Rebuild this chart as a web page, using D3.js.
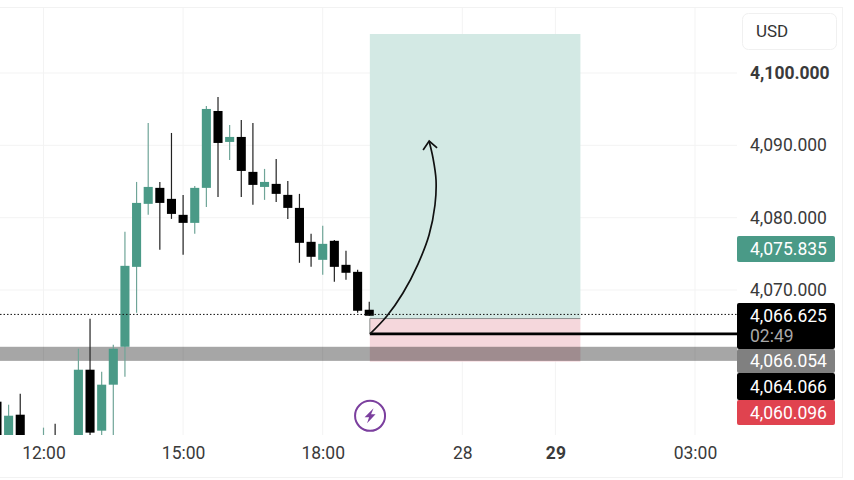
<!DOCTYPE html>
<html>
<head>
<meta charset="utf-8">
<script src="https://cdn.jsdelivr.net/npm/d3@7"></script>
<style>
  html, body { margin: 0; padding: 0; background: #fff; }
  text { font-family: Roboto, sans-serif; }
  .axis path, .axis line { display: none; }
  .axis text { font-size: 17.5px; fill: #3a3a3a; font-family: Roboto, sans-serif; }
</style>
</head>
<body>
<svg id="chart" width="854" height="480"></svg>
<script>
// 15 minute candles, index 0 is the 12:00 bar
const firstIndex = -4;
const opens  = [4054.56, 4049.00, 4052.76, 4048.50, 4047.00, 4049.50, 4048.50, 4049.00, 4058.98, 4050.55, 4056.91, 4062.15, 4073.20, 4081.91, 4084.12, 4082.60, 4080.39, 4079.28, 4084.12, 4094.75, 4090.47, 4091.16, 4086.33, 4084.25, 4084.67, 4083.15, 4081.35, 4076.66, 4074.17, 4076.80, 4073.48, 4072.51, 4067.27];
const highs  = [4054.80, 4054.14, 4055.66, 4049.50, 4050.97, 4051.52, 4049.50, 4061.88, 4066.02, 4058.70, 4062.43, 4078.04, 4084.94, 4093.09, 4084.94, 4091.71, 4083.15, 4084.39, 4095.44, 4096.69, 4092.82, 4093.51, 4093.09, 4086.74, 4088.12, 4085.08, 4083.29, 4077.76, 4078.87, 4076.90, 4075.41, 4072.79, 4068.37];
const lows   = [4047.00, 4048.00, 4048.00, 4046.00, 4046.00, 4046.00, 4046.00, 4048.00, 4049.80, 4049.50, 4049.00, 4058.01, 4066.85, 4080.39, 4075.55, 4079.83, 4074.86, 4077.76, 4081.49, 4082.87, 4087.98, 4082.87, 4081.77, 4082.46, 4082.18, 4079.83, 4073.76, 4073.20, 4072.10, 4071.13, 4071.41, 4066.85, 4066.44];
const closes = [4049.00, 4052.62, 4049.00, 4047.00, 4049.00, 4047.00, 4047.00, 4058.98, 4050.28, 4056.91, 4061.88, 4073.34, 4082.04, 4084.25, 4082.04, 4080.52, 4079.28, 4084.12, 4095.03, 4090.33, 4091.16, 4086.46, 4084.53, 4084.94, 4083.29, 4081.35, 4076.52, 4074.59, 4076.38, 4073.20, 4072.38, 4067.13, 4066.44];

const priceTicks = [4100, 4090, 4080, 4070];
const timeTicks = [0, 12, 24, 36, 44, 56];
const timeLabels = ['12:00', '15:00', '18:00', '28', '29', '03:00'];

const lastPrice = 4066.625;
const takeProfit = 4105.39, stopLoss = 4060.096, entry = 4063.93, boxSplit = 4066.054;
const boxStart = 28.05, boxEnd = 46.15;
const bandTop = 4062.15, bandBottom = 4060.2;
const arrowPath = [[28.07, 4063.93], [29.52, 4066.40], [30.90, 4069.58], [32.19, 4073.59], [33.14, 4077.60], [33.65, 4081.75], [33.74, 4085.21], [33.48, 4088.25], [33.14, 4090.60]];
const arrowHead = [[32.63, 4089.36], [33.15, 4090.6], [33.83, 4089.64]];
const marker = [28.07, 4052.6];

// price tags on the axis, the lower ones are pushed down so they don't overlap
const tagTexts = ['4,075.835', '4,066.625', '4,066.054', '4,064.066', '4,060.096'];
const tagTops = [4077.46, 4068.2, 4061.84, 4058.52, 4054.79];
const tagBottoms = [4073.87, 4061.84, 4058.52, 4054.79, 4051.33];
const tagColors = ['#4a9a87', '#000000', '#808080', '#000000', '#e0434f'];
const countdown = '02:49';

const green = '#4a9a87', black = '#000000';
const plotRight = 737, plotBottom = 435, plotTop = 8;

const x = d3.scaleLinear().domain([0, 56]).range([43.5, 695]);
const y = d3.scaleLinear().domain([4100, 4070]).range([73, 290]);

const svg = d3.select('#chart');

svg.append('defs').append('clipPath').attr('id', 'plot')
  .append('rect').attr('x', 0).attr('y', plotTop).attr('width', plotRight).attr('height', plotBottom - plotTop);

// frame
svg.append('line').attr('x1', 0).attr('x2', 843).attr('y1', 7.5).attr('y2', 7.5).style('stroke', '#f2f2f2');
svg.append('line').attr('x1', 0).attr('x2', 843).attr('y1', 477.5).attr('y2', 477.5).style('stroke', '#f2f2f2');
svg.append('line').attr('x1', 842.5).attr('x2', 842.5).attr('y1', 7).attr('y2', 477).style('stroke', '#f2f2f2');

// grid
svg.selectAll('.hgrid').data(priceTicks).enter().append('line')
  .attr('class', 'hgrid')
  .attr('x1', 0).attr('x2', plotRight)
  .attr('y1', function(d) { return y(d); })
  .attr('y2', function(d) { return y(d); })
  .style('stroke', '#f3f3f3');
svg.selectAll('.vgrid').data(timeTicks).enter().append('line')
  .attr('class', 'vgrid')
  .attr('x1', function(d) { return x(d); })
  .attr('x2', function(d) { return x(d); })
  .attr('y1', plotTop).attr('y2', plotBottom)
  .style('stroke', '#f3f3f3');

const plot = svg.append('g').attr('clip-path', 'url(#plot)');

// long position box
plot.append('rect')
  .attr('x', x(boxStart)).attr('width', x(boxEnd) - x(boxStart))
  .attr('y', y(takeProfit)).attr('height', y(boxSplit) - y(takeProfit))
  .style('fill', '#d3e9e4');
plot.append('rect')
  .attr('x', x(boxStart)).attr('width', x(boxEnd) - x(boxStart))
  .attr('y', y(boxSplit)).attr('height', y(stopLoss) - y(boxSplit))
  .style('fill', '#f5d7dc');
plot.append('line')
  .attr('x1', x(boxStart)).attr('x2', x(boxEnd))
  .attr('y1', y(boxSplit)).attr('y2', y(boxSplit))
  .style('stroke', '#8a8f8e').style('stroke-width', 1);
plot.append('line')
  .attr('x1', x(boxStart)).attr('x2', x(boxStart))
  .attr('y1', y(boxSplit)).attr('y2', y(entry))
  .style('stroke', '#8a8f8e').style('stroke-width', 1);

// grey zone
plot.append('rect')
  .attr('x', 0).attr('width', plotRight)
  .attr('y', y(bandTop)).attr('height', y(bandBottom) - y(bandTop))
  .style('fill', 'rgba(0,0,0,0.35)');

// candles
const candles = opens.map(function(o, i) {
  return {i: firstIndex + i, o: o, h: highs[i], l: lows[i], c: closes[i]};
});
const bodyW = x(0.39) - x(-0.39);

plot.selectAll('.wick').data(candles).enter().append('line')
  .attr('class', 'wick')
  .attr('x1', function(d) { return x(d.i); })
  .attr('x2', function(d) { return x(d.i); })
  .attr('y1', function(d) { return y(d.h); })
  .attr('y2', function(d) { return y(d.l); })
  .style('stroke', function(d) { return d.c >= d.o ? '#6fa598' : '#222'; })
  .style('stroke-width', 1.2);

plot.selectAll('.body').data(candles).enter().append('rect')
  .attr('class', 'body')
  .attr('x', function(d) { return x(d.i) - bodyW / 2; })
  .attr('width', bodyW)
  .attr('y', function(d) { return y(Math.max(d.o, d.c)); })
  .attr('height', function(d) { return y(Math.min(d.o, d.c)) - y(Math.max(d.o, d.c)); })
  .style('fill', function(d) { return d.c >= d.o ? green : black; });

// last price dotted line
plot.append('line')
  .attr('x1', 0).attr('x2', plotRight)
  .attr('y1', y(lastPrice)).attr('y2', y(lastPrice))
  .style('stroke', '#111').style('stroke-width', 1)
  .style('stroke-dasharray', '1.5,2');

// entry line
plot.append('line')
  .attr('x1', x(boxStart)).attr('x2', plotRight)
  .attr('y1', y(entry)).attr('y2', y(entry))
  .style('stroke', '#000').style('stroke-width', 2.6);

// hand drawn arrow
const arrowLine = d3.line()
  .x(function(d) { return x(d[0]); })
  .y(function(d) { return y(d[1]); });
svg.append('path')
  .attr('d', arrowLine.curve(d3.curveCatmullRom)(arrowPath))
  .style('fill', 'none').style('stroke', '#111').style('stroke-width', 1.7);
svg.append('path')
  .attr('d', arrowLine.curve(d3.curveLinear)(arrowHead))
  .style('fill', 'none').style('stroke', '#111').style('stroke-width', 1.7);

// event marker
const icon = svg.append('g').attr('transform', 'translate(' + x(marker[0]) + ',' + y(marker[1]) + ')');
icon.append('circle').attr('r', 15).style('fill', '#fff').style('stroke', '#7b3f9e').style('stroke-width', 2);
icon.append('path').attr('d', 'M3.5,-7.5 L-5.5,1.5 L-1,1.5 L-3,7.5 L5.5,-1.5 L1,-1.5 Z').style('fill', '#7b3f9e');

// axes
const yAxis = svg.append('g').attr('class', 'axis')
  .attr('transform', 'translate(750,0)')
  .call(d3.axisRight(y).tickValues(priceTicks).tickSize(0).tickPadding(0)
    .tickFormat(function(d) { return d3.format(',.3f')(d); }));
yAxis.selectAll('text').style('font-weight', function(d) { return d === 4100 ? 700 : 400; });

const xAxis = svg.append('g').attr('class', 'axis')
  .attr('transform', 'translate(0,444)')
  .call(d3.axisBottom(x).tickValues(timeTicks).tickSize(0).tickPadding(3)
    .tickFormat(function(d, i) { return timeLabels[i]; }));
xAxis.selectAll('text').style('font-weight', function(d, i) { return timeLabels[i] === '29' ? 700 : 400; });

// price tags
const tags = svg.selectAll('.tag').data(tagTexts).enter().append('g').attr('class', 'tag');
tags.append('rect')
  .attr('x', 737).attr('width', 98).attr('rx', 2)
  .attr('y', function(d, i) { return y(tagTops[i]); })
  .attr('height', function(d, i) { return y(tagBottoms[i]) - y(tagTops[i]); })
  .style('fill', function(d, i) { return tagColors[i]; });
tags.append('text')
  .attr('x', 750)
  .attr('y', function(d, i) {
    return i === 1 ? y(tagTops[i]) + 18.5 : (y(tagTops[i]) + y(tagBottoms[i])) / 2 + 6;
  })
  .style('font-size', '17.5px')
  .style('fill', '#fff')
  .text(function(d) { return d; });
svg.append('text')
  .attr('x', 750).attr('y', y(tagTops[1]) + 39)
  .style('font-size', '17.5px').style('fill', '#a8a8a8')
  .text(countdown);

// currency box
svg.append('rect').attr('x', 742.5).attr('y', 13.5).attr('width', 94).attr('height', 36).attr('rx', 6)
  .style('fill', '#fff').style('stroke', '#f0f0f0');
svg.append('text').attr('x', 756).attr('y', 37).style('font-size', '17px').style('fill', '#333').text('USD');
</script>
</body>
</html>
